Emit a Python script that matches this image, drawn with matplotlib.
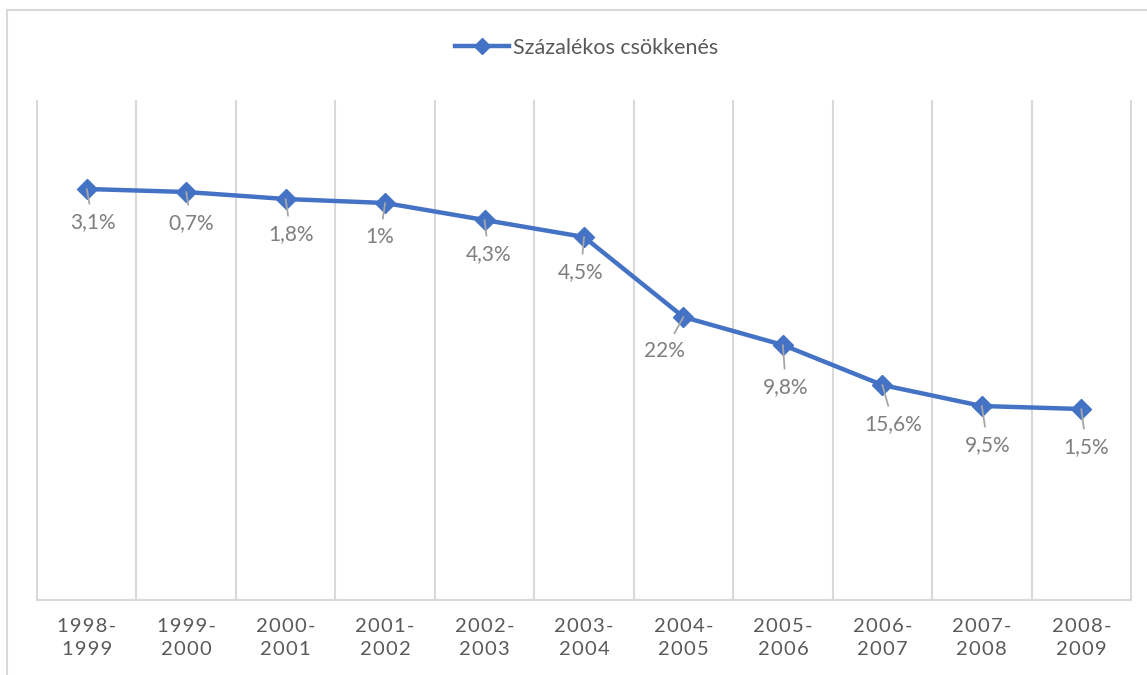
import matplotlib
matplotlib.use("Agg")
import matplotlib.pyplot as plt
from matplotlib.lines import Line2D

plt.rcParams['font.family'] = ['Lato', 'DejaVu Sans']

# school years on the x axis
years = ["1998-1999", "1999-2000", "2000-2001", "2001-2002", "2002-2003", "2003-2004",
         "2004-2005", "2005-2006", "2006-2007", "2007-2008", "2008-2009"]
# level of the series (y axis is hidden, 0 at the bottom)
values = [411, 408, 401, 397, 380, 363, 283, 255, 215, 194, 191]
# yearly decrease written next to each point
decrease = ["3,1%", "0,7%", "1,8%", "1%", "4,3%", "4,5%", "22%", "9,8%", "15,6%", "9,5%", "1,5%"]

# where each data label sits relative to its point (pixels, right / down)
label_offsets = [(6, 33), (5, 31), (5, 35), (-5, 34), (4, 34), (-3, 35),
                 (-19, 34), (3, 42), (11, 39), (6, 39), (5, 38)]

BLUE = "#4472C4"
GRID = "#d9d9d9"

W, H = 1147, 675
fig = plt.figure(figsize=(W / 100, H / 100), dpi=100)
ax = fig.add_axes([37 / W, 75 / H, (1131 - 37) / W, 500 / H])

x = list(range(len(years)))
line, = ax.plot(x, values, color=BLUE, lw=3.2, marker="D", markersize=10,
                label="Százalékos csökkenés", zorder=3)

ax.set_xlim(-0.5, len(years) - 0.5)
ax.set_ylim(0, 500)

# vertical separators between categories
ax.vlines([i - 0.5 for i in range(len(years) + 1)], 0, 500, color=GRID, lw=1.5,
          clip_on=False, zorder=1)

for s in ["top", "right", "left"]:
    ax.spines[s].set_visible(False)
ax.spines["bottom"].set_color(GRID)
ax.spines["bottom"].set_linewidth(1.5)
ax.set_yticks([])

# spaced-out tick labels
def spaced(txt):
    return "\n".join("\u200a".join(part) for part in [txt[:5], txt[5:]])

ax.set_xticks(x)
ax.set_xticklabels([spaced(y) for y in years], fontsize=14.5, color="#595959",
                   linespacing=1.45)
ax.tick_params(axis="x", length=0, pad=13)

for i, (v, lab) in enumerate(zip(values, decrease)):
    dx, dy = label_offsets[i]
    ax.annotate(lab, xy=(i, v), xytext=(dx, -dy), textcoords="offset pixels",
                ha="center", va="center", fontsize=15, color="#7f7f7f",
                arrowprops=dict(arrowstyle="-", color="#a6a6a6", lw=1.3,
                                shrinkA=4, shrinkB=0),
                zorder=4)

fig.legend(handles=[line], loc="center", bbox_to_anchor=(587 / W, 1 - 48 / H),
           frameon=False, fontsize=15.5, labelcolor="#595959",
           handlelength=2.5, handletextpad=0.2, markerscale=0.8)

# outer chart frame
fig.add_artist(Line2D([7 / W, 7 / W], [0, 1 - 10 / H], color=GRID, lw=1.5,
                      transform=fig.transFigure))
fig.add_artist(Line2D([7 / W, 1], [1 - 10 / H, 1 - 10 / H], color=GRID, lw=1.5,
                      transform=fig.transFigure))

fig.savefig("out.png", dpi=100)
